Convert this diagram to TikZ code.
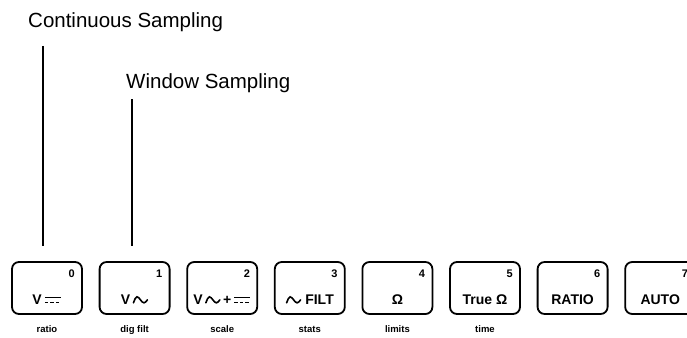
\documentclass[tikz,border=0pt]{standalone}
\usepackage{fontspec}
\setmainfont{Liberation Sans}
\usetikzlibrary{positioning}

% front panel symbols
\newcommand{\dcsym}{\tikz[baseline=0pt]{\draw[line width=1.5pt] (0pt,7.5pt) -- (16pt,7.5pt);
  \draw[line width=1.5pt, dash pattern=on 3.5pt off 2pt] (0pt,2.5pt) -- (16pt,2.5pt);}}
\newcommand{\acsym}{\tikz[baseline=0pt]\draw[line width=1.6pt, line cap=round] (0pt,2pt) sin (3.5pt,8pt) cos (7pt,5pt) sin (10.5pt,2pt) cos (14pt,5pt);}

\begin{document}
\begin{tikzpicture}[x=1pt, y=-1pt,
  keybox/.style={draw, line width=1.8pt, rounded corners=7pt, minimum width=70pt, minimum height=52pt, inner sep=0pt},
  keytext/.style={font=\fontsize{14}{16}\selectfont\bfseries, inner sep=0pt},
  keynum/.style={font=\fontsize{11}{13}\selectfont\bfseries, inner sep=0pt},
  keylabel/.style={font=\fontsize{9.5}{11}\selectfont\bfseries, inner sep=0pt},
  caption/.style={font=\fontsize{20.5}{24}\selectfont, inner sep=0pt, anchor=base west},
  leadline/.style={line width=1.5pt}]
	\useasboundingbox (0,0) rectangle (687,337);
	\clip (0,0) rectangle (687,337);
	
	% Captions
	\node[caption] (cont) at (28,28) {Continuous Sampling};
	\node[caption] (win) at (126,88) {Window Sampling};
	
	% Keys
	\node[keybox] (k0) at (47,288) {};
	\node[keybox] (k1) at (134.6,288) {};
	\node[keybox] (k2) at (222.2,288) {};
	\node[keybox] (k3) at (309.8,288) {};
	\node[keybox] (k4) at (397.4,288) {};
	\node[keybox] (k5) at (485,288) {};
	\node[keybox] (k6) at (572.6,288) {};
	\node[keybox] (k7) at (660.2,288) {};
	
	% Key faces
	\node[keytext] (t0) at ([yshift=-12pt]k0.center) {V\,\dcsym};
	\node[keytext] (t1) at ([yshift=-12pt]k1.center) {V\,\acsym};
	\node[keytext] (t2) at ([yshift=-12pt]k2.center) {V\,\acsym\,+\,\dcsym};
	\node[keytext] (t3) at ([yshift=-12pt]k3.center) {\acsym\ FILT};
	\node[keytext] (t4) at ([yshift=-12pt]k4.center) {Ω};
	\node[keytext] (t5) at ([yshift=-12pt]k5.center) {True Ω};
	\node[keytext] (t6) at ([yshift=-12pt]k6.center) {RATIO};
	\node[keytext] (t7) at ([yshift=-12pt]k7.center) {AUTO};
	
	% Key numbers
	\node[keynum, below left=9pt and 8pt of k0.north east] (n0) {0};
	\node[keynum, below left=9pt and 8pt of k1.north east] (n1) {1};
	\node[keynum, below left=9pt and 8pt of k2.north east] (n2) {2};
	\node[keynum, below left=9pt and 8pt of k3.north east] (n3) {3};
	\node[keynum, below left=9pt and 8pt of k4.north east] (n4) {4};
	\node[keynum, below left=9pt and 8pt of k5.north east] (n5) {5};
	\node[keynum, below left=9pt and 8pt of k6.north east] (n6) {6};
	\node[keynum, below left=9pt and 8pt of k7.north east] (n7) {7};
	
	% Shifted functions
	\node[keylabel, below=11pt of k0] (l0) {ratio};
	\node[keylabel, below=11pt of k1] (l1) {dig filt};
	\node[keylabel, below=11pt of k2] (l2) {scale};
	\node[keylabel, below=11pt of k3] (l3) {stats};
	\node[keylabel, below=11pt of k4] (l4) {limits};
	\node[keylabel, below=11pt of k5] (l5) {time};
	
	% Leader lines
	\coordinate (c0) at (43,46);
	\coordinate (c1) at (132,99);
	\draw[leadline, shorten >=15pt] (c0) -- (c0 |- k0.north);
	\draw[leadline, shorten >=15pt] (c1) -- (c1 |- k1.north);
\end{tikzpicture}
\end{document}
